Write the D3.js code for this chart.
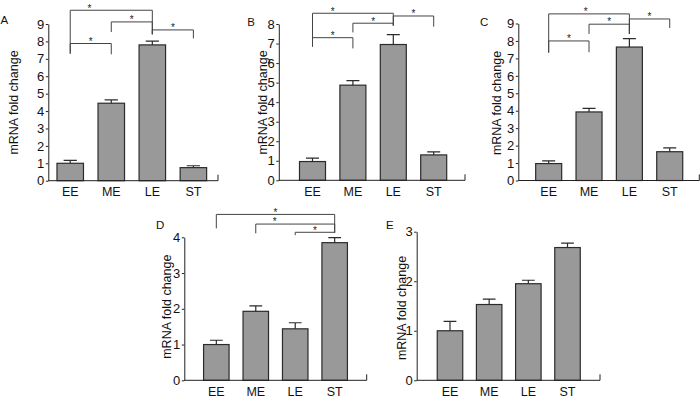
<!DOCTYPE html>
<html>
<head>
<meta charset="utf-8">
<script src="https://cdn.jsdelivr.net/npm/d3@7"></script>
<style>
  body { margin: 0; background: #fff; }
  svg { display: block; font-family: "Liberation Sans", Arial, sans-serif; }
</style>
</head>
<body>
<svg id="chart" width="700" height="398"></svg>
<script>
// data
var categories = ["EE", "ME", "LE", "ST"];

var meanA = [1.0, 4.45, 7.8, 0.75];
var errA  = [0.17, 0.19, 0.22, 0.11];
var meanB = [0.96, 4.87, 6.95, 1.3];
var errB  = [0.17, 0.23, 0.51, 0.15];
var meanC = [0.97, 3.93, 7.65, 1.65];
var errC  = [0.16, 0.2, 0.48, 0.22];
var meanD = [1.0, 1.93, 1.44, 3.85];
var errD  = [0.12, 0.15, 0.17, 0.14];
var meanE = [1.0, 1.53, 1.95, 2.68];
var errE  = [0.19, 0.11, 0.07, 0.09];

var ticksA = [0, 1, 2, 3, 4, 5, 6, 7, 8, 9];
var ticksB = [0, 1, 2, 3, 4, 5, 6, 7, 8];
var ticksC = [0, 1, 2, 3, 4, 5, 6, 7, 8, 9];
var ticksD = [0, 1, 2, 3, 4];
var ticksE = [0, 1, 2, 3];

// significance brackets: [from, to, level, left leg end, right leg end, star position]
var sigA = [[0, 2, 9.79, 7.3, 8.41, 0.235], [0, 1, 7.88, 7.3, 7.26, 0.5],
            [1, 2, 9.12, 8.54, 8.41, 0.5], [2, 3, 8.66, 8.41, 8.17, 0.5]];
var sigB = [[0, 2, 8.55, 6.84, 7.92, 0.25], [0, 1, 7.3, 6.84, 6.75, 0.5],
            [1, 2, 8.04, 7.57, 7.92, 0.5], [2, 3, 8.41, 7.92, 7.86, 0.5]];
var sigC = [[0, 2, 9.55, 7.33, 8.4, 0.46], [0, 1, 8.0, 7.33, 7.35, 0.5],
            [1, 2, 8.96, 8.4, 8.4, 0.5], [2, 3, 9.26, 8.4, 8.74, 0.5]];
var sigD = [[0, 3, 4.64, 4.25, 4.13, 0.5], [1, 3, 4.37, 4.11, 4.13, 0.24],
            [2, 3, 4.14, 4.06, 4.13, 0.5]];
var sigE = [];

// panel layout
var panels = [
  { label: "A", mean: meanA, err: errA, ticks: ticksA, sig: sigA,
    ax: 48.3, axR: 218, band: [49.7, 213.9], y0: 180.7, y1: 24, barW: 26.5,
    lx: 0.5, ly: 24, tx: 13.3, ty: 102.5 },
  { label: "B", mean: meanB, err: errB, ticks: ticksB, sig: sigB,
    ax: 278.8, axR: 465, band: [292.3, 453.9], y0: 180.3, y1: 24, barW: 26,
    lx: 247.3, ly: 25.7, tx: 262.8, ty: 102.5 },
  { label: "C", mean: meanC, err: errC, ticks: ticksC, sig: sigC,
    ax: 518.3, axR: 699.3, band: [528.5, 689.9], y0: 180.5, y1: 23.5, barW: 26,
    lx: 480, ly: 26, tx: 496.7, ty: 103 },
  { label: "D", mean: meanD, err: errD, ticks: ticksD, sig: sigD,
    ax: 184.3, axR: 366.7, band: [196.6, 354.4], y0: 380.3, y1: 237.3, barW: 25.5,
    lx: 156, ly: 229.3, tx: 166.7, ty: 306.7 },
  { label: "E", mean: meanE, err: errE, ticks: ticksE, sig: sigE,
    ax: 416.7, axR: 600, band: [430.4, 587.1], y0: 380.3, y1: 231.7, barW: 25.5,
    lx: 386, ly: 228.7, tx: 401.7, ty: 308 }
];

var svg = d3.select("#chart");

panels.forEach(drawPanel);

function drawPanel(p) {
  var g = svg.append("g");
  var yMax = p.ticks[p.ticks.length - 1];

  var x = d3.scaleBand()
    .domain(categories)
    .range(p.band)
    .paddingInner(0)
    .paddingOuter(0);
  var y = d3.scaleLinear()
    .domain([0, yMax])
    .range([p.y0, p.y1]);

  // bars
  g.selectAll("rect.bar")
    .data(p.mean)
    .enter()
    .append("rect")
    .attr("class", "bar")
    .attr("x", function(d, i) { return x(categories[i]) + x.bandwidth() / 2 - p.barW / 2; })
    .attr("y", function(d) { return y(d); })
    .attr("width", p.barW)
    .attr("height", function(d) { return y(0) - y(d); })
    .style("fill", "#999999")
    .style("stroke", "#2b2b2b")
    .style("stroke-width", 1.2);

  // error bars (upper only)
  g.selectAll("path.err")
    .data(p.mean)
    .enter()
    .append("path")
    .attr("class", "err")
    .attr("d", function(d, i) {
      var cx = x(categories[i]) + x.bandwidth() / 2;
      var top = y(d + p.err[i]);
      var hw = p.barW / 4;
      return "M" + cx + "," + y(d) + "V" + top + "M" + (cx - hw) + "," + top + "H" + (cx + hw);
    })
    .style("fill", "none")
    .style("stroke", "#2b2b2b")
    .style("stroke-width", 1.2);

  // y axis
  var yAxis = d3.axisLeft(y)
    .tickValues(p.ticks)
    .tickFormat(d3.format("d"))
    .tickSizeInner(2.5)
    .tickSizeOuter(0)
    .tickPadding(1.5);
  var ya = g.append("g")
    .attr("transform", "translate(" + p.ax + ",0)")
    .call(yAxis);
  ya.selectAll("text")
    .style("font-size", "13px")
    .style("fill", "#111");
  ya.selectAll("line, path").style("stroke", "#222");

  // x axis: labels only, line drawn by hand with the end tick
  var xAxis = d3.axisBottom(x)
    .tickSize(0)
    .tickPadding(6.5);
  var xa = g.append("g")
    .attr("transform", "translate(0," + p.y0 + ")")
    .call(xAxis);
  xa.select(".domain").remove();
  xa.selectAll("text")
    .style("font-size", "12.5px")
    .style("fill", "#111");

  g.append("path")
    .attr("d", "M" + p.ax + "," + p.y0 + "H" + p.axR + "V" + (p.y0 - 6))
    .style("fill", "none")
    .style("stroke", "#222")
    .style("stroke-width", 1);

  // axis title
  g.append("text")
    .attr("transform", "translate(" + (p.tx + 4.5) + "," + p.ty + ") rotate(-90)")
    .style("text-anchor", "middle")
    .style("font-size", "12.5px")
    .style("fill", "#111")
    .text("mRNA fold change");

  // panel letter
  g.append("text")
    .attr("x", p.lx)
    .attr("y", p.ly)
    .style("font-size", "11.5px")
    .style("fill", "#111")
    .text(p.label);

  // significance brackets
  p.sig.forEach(function(s) {
    var xa0 = x(categories[s[0]]) + x.bandwidth() / 2;
    var xb0 = x(categories[s[1]]) + x.bandwidth() / 2;
    var yl = y(s[2]);
    g.append("path")
      .attr("d", "M" + xa0 + "," + y(s[3]) + "V" + yl + "H" + xb0 + "V" + y(s[4]))
      .style("fill", "none")
      .style("stroke", "#444")
      .style("stroke-width", 1);
    g.append("text")
      .attr("x", xa0 + (xb0 - xa0) * s[5])
      .attr("y", yl + 1.3)
      .style("text-anchor", "middle")
      .style("font-size", "10px")
      .style("fill", "#222")
      .style("opacity", 0.99)
      .text("*");
  });
}
</script>
</body>
</html>
